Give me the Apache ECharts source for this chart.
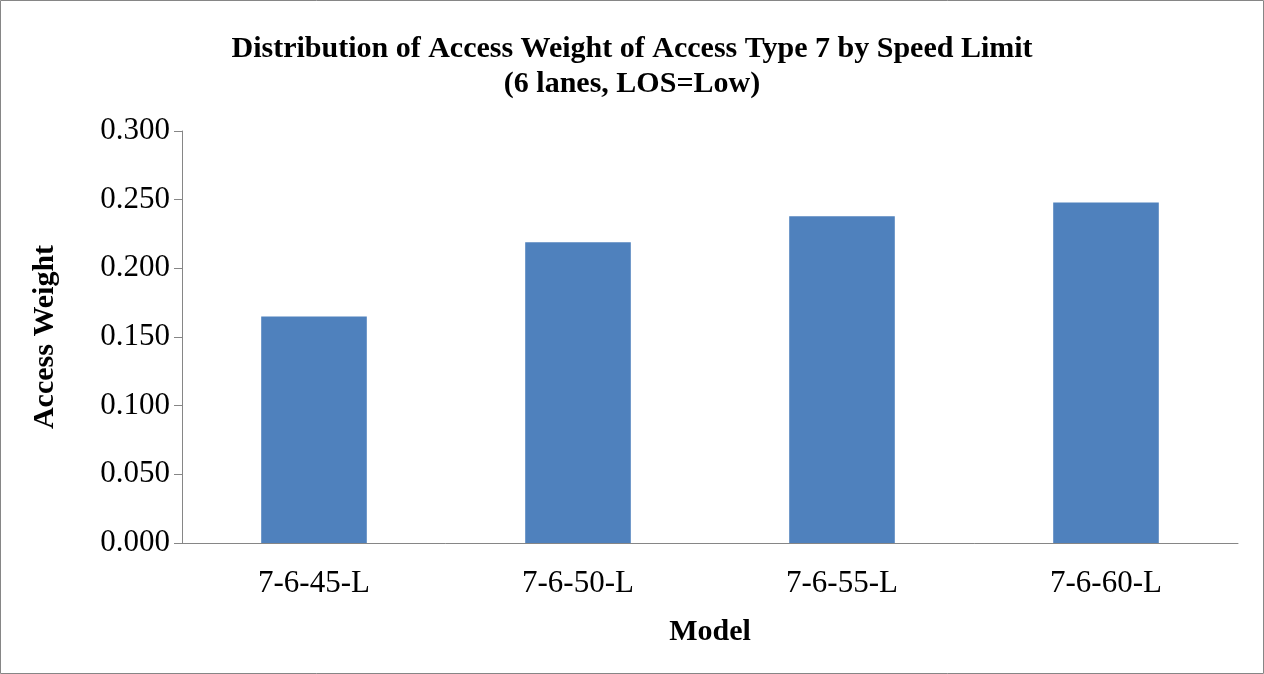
<!DOCTYPE html>
<html>
<head>
<meta charset="utf-8">
<script src="https://cdn.jsdelivr.net/npm/echarts@6/dist/echarts.min.js"></script>
<style>
  html, body { margin: 0; padding: 0; background: #fff; }
  #main { width: 1264px; height: 674px; }
</style>
</head>
<body>
<div id="main"></div>
<script>
// data
const models = ['7-6-45-L', '7-6-50-L', '7-6-55-L', '7-6-60-L'];
const accessWeight = [0.165, 0.219, 0.238, 0.248];

const myChart = echarts.init(document.getElementById('main'));

const serif = '"Liberation Serif", "Times New Roman", serif';

const option = {
  backgroundColor: '#fff',
  animation: false,
  title: {
    text: 'Distribution of Access Weight of Access Type 7 by Speed Limit\n(6 lanes, LOS=Low)',
    left: 'center',
    top: 27,
    textStyle: {
      fontFamily: serif,
      fontSize: 30,
      fontWeight: 'bold',
      color: '#000',
      lineHeight: 35,
    },
  },
  graphic: [{
    type: 'rect',
    shape: { x: 0.5, y: 0.5, width: 1263, height: 673 },
    style: { fill: 'none', stroke: '#868686', lineWidth: 1 },
  }],
  grid: { left: 182, right: 26, top: 131, bottom: 131 },
  xAxis: {
    type: 'category',
    data: models,
    name: 'Model',
    nameLocation: 'middle',
    nameGap: 74,
    nameTextStyle: { fontFamily: serif, fontSize: 30, fontWeight: 'bold', color: '#000' },
    axisLine: { lineStyle: { color: '#868686', width: 1 } },
    axisTick: { length: 8, lineStyle: { color: '#868686' } },
    axisLabel: { fontFamily: serif, fontSize: 31, color: '#000', margin: 25 },
  },
  yAxis: {
    type: 'value',
    min: 0,
    max: 0.3,
    interval: 0.05,
    name: 'Access Weight',
    nameLocation: 'middle',
    nameGap: 122,
    nameTextStyle: { fontFamily: serif, fontSize: 30, fontWeight: 'bold', color: '#000' },
    axisLine: { show: true, lineStyle: { color: '#868686', width: 1 } },
    axisTick: { show: true, length: 8, inside: false, lineStyle: { color: '#868686' } },
    splitLine: { show: false },
    axisLabel: {
      fontFamily: serif,
      fontSize: 31,
      color: '#000',
      margin: 12,
      formatter: (v) => v.toFixed(3),
    },
  },
  series: [{
    type: 'bar',
    data: accessWeight,
    barWidth: '40%',
    itemStyle: { color: '#4F81BD' },
  }],
};

myChart.setOption(option);
</script>
</body>
</html>
